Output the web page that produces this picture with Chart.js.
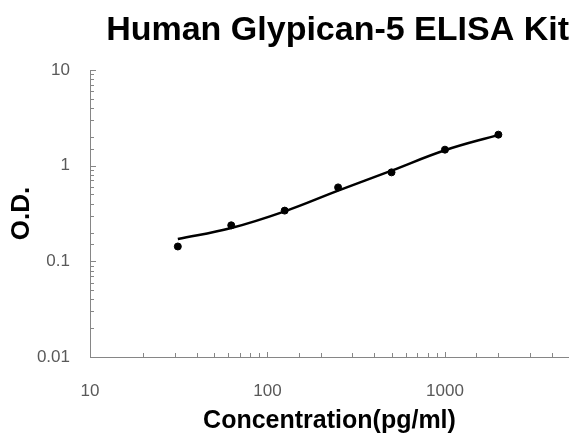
<!DOCTYPE html>
<html>
<head>
<meta charset="utf-8">
<script src="https://cdn.jsdelivr.net/npm/chart.js@4/dist/chart.umd.min.js"></script>
<style>
  html, body { margin: 0; padding: 0; background: #fff; }
  canvas { display: block; }
</style>
</head>
<body>
<canvas id="elisa-chart" width="569" height="434"></canvas>
<script>
var concentrations = [31.25, 62.5, 125, 250, 500, 1000, 2000];
var odMeasured = [0.143, 0.238, 0.339, 0.593, 0.851, 1.47, 2.11];
var odFit = [0.171, 0.223, 0.333, 0.548, 0.887, 1.45, 2.1];
var xTickLabels = ['10', '100', '1000'];
var yTickLabels = ['0.01', '0.1', '1', '10'];

(function () {
  var canvas = document.getElementById('elisa-chart');
  var axisGray = '#868686';
  var labelGray = '#595959';

  function isDecade(v) {
    var l = Math.log10(v);
    return Math.abs(l - Math.round(l)) < 1e-6;
  }

  function decadeLabel(list, first) {
    return function (value) {
      if (!isDecade(value)) return '';
      var idx = Math.round(Math.log10(value)) - first;
      return list[idx] !== undefined ? list[idx] : '';
    };
  }

  function toPoints(ys) {
    return concentrations.map(function (c, i) {
      return { x: c, y: ys[i] };
    });
  }

  // tick marks pointing into the plot, like the original
  var innerTicks = {
    id: 'innerTicks',
    afterDraw: function (chart) {
      var ctx = chart.ctx;
      var xs = chart.scales.x;
      var ys = chart.scales.y;
      ctx.save();
      ctx.strokeStyle = axisGray;
      ctx.lineWidth = 1;
      ctx.beginPath();
      xs.ticks.forEach(function (t) {
        var px = Math.round(xs.getPixelForValue(t.value)) + 0.5;
        var len = isDecade(t.value) ? 5 : 4;
        ctx.moveTo(px, xs.top);
        ctx.lineTo(px, xs.top - len);
      });
      ys.ticks.forEach(function (t) {
        var py = Math.round(ys.getPixelForValue(t.value)) + 0.5;
        var len = isDecade(t.value) ? 6 : 4;
        ctx.moveTo(ys.right, py);
        ctx.lineTo(ys.right + len, py);
      });
      ctx.stroke();
      ctx.restore();
    }
  };

  Chart.defaults.font.family = "'Liberation Sans', Arial, sans-serif";

  new Chart(canvas, {
    type: 'scatter',
    data: {
      datasets: [{
        label: 'Fit',
        data: toPoints(odFit),
        showLine: true,
        borderColor: '#000',
        borderWidth: 2.5,
        pointRadius: 0,
        tension: 0.4,
        fill: false,
      }, {
        label: 'O.D.',
        data: toPoints(odMeasured),
        showLine: false,
        backgroundColor: '#000',
        borderColor: '#000',
        pointRadius: 3.5,
      }],
    },
    options: {
      responsive: false,
      animation: false,
      layout: { padding: 0, autoPadding: false },
      plugins: {
        legend: { display: false },
        tooltip: { enabled: false },
        title: {
          display: true,
          fullSize: false,
          align: 'end',
          text: 'Human Glypican-5 ELISA Kit',
          color: '#000',
          font: { size: 34, weight: 'bold', lineHeight: 1.2 },
          padding: { top: 10, bottom: 19.2 },
        },
      },
      scales: {
        x: {
          type: 'logarithmic',
          min: 10,
          max: 5000,
          afterFit: function (scale) {
            scale.height = 77;
            scale.paddingLeft = 0;
            scale.paddingRight = 0;
          },
          grid: { display: false, drawTicks: false },
          border: { display: true, color: axisGray, width: 1 },
          ticks: {
            autoSkip: false,
            maxRotation: 0,
            padding: 24,
            color: labelGray,
            font: { size: 17 },
            callback: decadeLabel(xTickLabels, 1),
          },
          title: {
            display: true,
            text: 'Concentration(pg/ml)',
            color: '#000',
            font: { size: 25, weight: 'bold', lineHeight: 1.04 },
            padding: { top: 0, bottom: 0 },
          },
        },
        y: {
          type: 'logarithmic',
          min: 0.01,
          max: 10,
          afterFit: function (scale) {
            scale.width = 90;
            scale.paddingTop = 0;
            scale.paddingBottom = 0;
          },
          grid: { display: false, drawTicks: false },
          border: { display: true, color: axisGray, width: 1 },
          ticks: {
            autoSkip: false,
            padding: 20,
            color: labelGray,
            font: { size: 17 },
            callback: decadeLabel(yTickLabels, -2),
          },
          title: {
            display: true,
            text: 'O.D.',
            color: '#000',
            font: { size: 26, weight: 'bold', lineHeight: 1.2 },
            padding: { top: 6, bottom: 4 },
          },
        },
      },
    },
    plugins: [innerTicks],
  });
})();
</script>
</body>
</html>
